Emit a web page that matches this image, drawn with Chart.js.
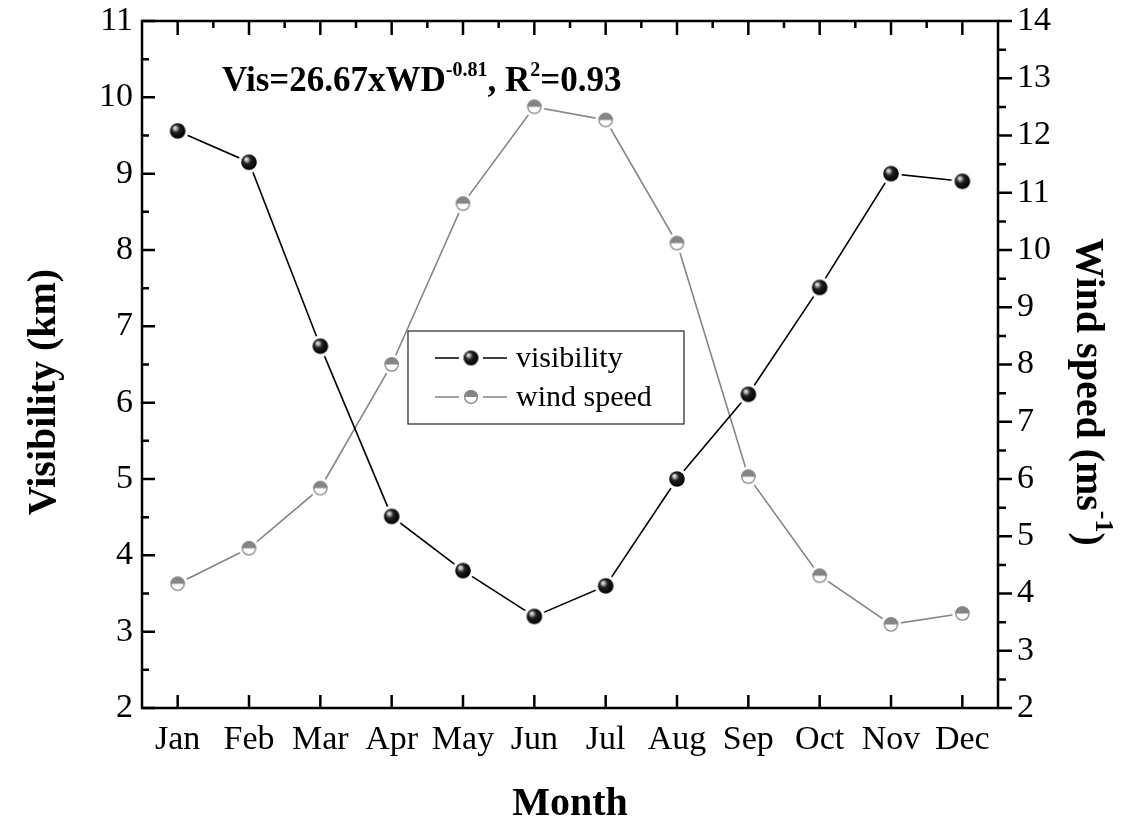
<!DOCTYPE html>
<html><head><meta charset="utf-8">
<script src="https://cdn.jsdelivr.net/npm/chart.js@4.4.1/dist/chart.umd.min.js"></script>
<style>html,body{margin:0;padding:0;background:#fff;overflow:hidden}canvas{display:block}</style>
</head><body>
<canvas id="c" width="1135" height="825"></canvas>
<script>
const months = ['Jan','Feb','Mar','Apr','May','Jun','Jul','Aug','Sep','Oct','Nov','Dec'];
const visibility = [9.56, 9.15, 6.74, 4.51, 3.80, 3.20, 3.60, 5.00, 6.11, 7.51, 9.00, 8.90];
const windSpeed  = [4.17, 4.79, 5.84, 8.00, 10.81, 12.50, 12.27, 10.12, 6.04, 4.31, 3.46, 3.65];
const visRange = [2, 11];
const windRange = [2, 14];
const seriesNames = ['visibility', 'wind speed'];
const leftTitle = 'Visibility (km)';
const rightTitleParts = [{t:'Wind speed (ms'}, {t:'-1', sup:true}, {t:')'}];
const bottomTitle = 'Month';
const equationParts = [{t:'Vis=26.67xWD'}, {t:'-0.81', sup:true}, {t:', R'}, {t:'2', sup:true}, {t:'=0.93'}];

const SERIF = '"Liberation Serif", "Times New Roman", serif';

function sphereMarker(r, gap) {
  const s = Math.ceil((r + gap) * 2) + 2;
  const c = document.createElement('canvas'); c.width = c.height = s;
  const g = c.getContext('2d'); const m = s / 2;
  if (gap > 0) { g.fillStyle = '#fff'; g.beginPath(); g.arc(m, m, r + gap, 0, 2 * Math.PI); g.fill(); }
  const grad = g.createRadialGradient(m - r * 0.35, m - r * 0.4, 0, m - r * 0.15, m - r * 0.15, r * 1.15);
  grad.addColorStop(0, '#ffffff'); grad.addColorStop(0.18, '#b0b0b0');
  grad.addColorStop(0.45, '#202020'); grad.addColorStop(1, '#000000');
  g.fillStyle = grad; g.beginPath(); g.arc(m, m, r, 0, 2 * Math.PI); g.fill();
  return c;
}
function halfMarker(r, gap, col) {
  const s = Math.ceil((r + gap) * 2) + 2;
  const c = document.createElement('canvas'); c.width = c.height = s;
  const g = c.getContext('2d'); const m = s / 2;
  g.fillStyle = '#fff'; g.beginPath(); g.arc(m, m, r + gap, 0, 2 * Math.PI); g.fill();
  g.fillStyle = col; g.beginPath(); g.arc(m, m, r, Math.PI, 2 * Math.PI); g.closePath(); g.fill();
  g.strokeStyle = col; g.lineWidth = 1.3; g.beginPath(); g.arc(m, m, r - 0.6, 0, 2 * Math.PI); g.stroke();
  return c;
}
const visMarker = sphereMarker(7.8, 3);
const windMarker = halfMarker(7.2, 3, '#858585');
const visMarkerLeg = sphereMarker(7.5, 0);
const windMarkerLeg = halfMarker(7, 0, '#858585');

function richWidth(ctx, parts, size, supSize) {
  let w = 0;
  for (const p of parts) { ctx.font = 'bold ' + (p.sup ? supSize : size) + 'px ' + SERIF; w += ctx.measureText(p.t).width; }
  return w;
}
function drawRich(ctx, x, y, parts, size, supSize, raise) {
  let cx = x;
  for (const p of parts) {
    ctx.font = 'bold ' + (p.sup ? supSize : size) + 'px ' + SERIF;
    ctx.fillText(p.t, cx, p.sup ? y - raise : y);
    cx += ctx.measureText(p.t).width;
  }
}

const decor = {
  id: 'decor',
  afterDraw(chart) {
    const ctx = chart.ctx;
    const {left, right, top, bottom} = chart.chartArea;
    const xs = chart.scales.x, ys = chart.scales.y, y1 = chart.scales.y1;
    ctx.save();
    ctx.strokeStyle = '#000'; ctx.lineWidth = 2.5; ctx.lineCap = 'butt';
    ctx.strokeRect(left, top, right - left, bottom - top);
    ctx.beginPath();
    for (let v = visRange[0]; v <= visRange[1] + 1e-9; v += 0.5) {
      const p = ys.getPixelForValue(v); const len = Number.isInteger(v) ? 13 : 7;
      ctx.moveTo(left, p); ctx.lineTo(left + len, p);
    }
    for (let v = windRange[0]; v <= windRange[1] + 1e-9; v += 0.5) {
      const p = y1.getPixelForValue(v); const len = Number.isInteger(v) ? 14 : 8;
      ctx.moveTo(right, p); ctx.lineTo(right + len, p);
    }
    for (let i = 0; i < months.length; i++) {
      const p = xs.getPixelForValue(i);
      ctx.moveTo(p, bottom); ctx.lineTo(p, bottom - 13);
      ctx.moveTo(p, top); ctx.lineTo(p, top + 14);
      if (i < months.length - 1) {
        const q = (p + xs.getPixelForValue(i + 1)) / 2;
        ctx.moveTo(q, top); ctx.lineTo(q, top + 7);
      }
    }
    ctx.stroke();

    ctx.fillStyle = '#000';
    ctx.textBaseline = 'alphabetic';
    ctx.save();
    ctx.translate(55, 392); ctx.rotate(-Math.PI / 2);
    ctx.font = 'bold 40px ' + SERIF; ctx.textAlign = 'center';
    ctx.fillText(leftTitle, 0, 0);
    ctx.restore();
    ctx.save();
    ctx.translate(1077, 392); ctx.rotate(Math.PI / 2);
    ctx.textAlign = 'left';
    const rw = richWidth(ctx, rightTitleParts, 40, 26);
    drawRich(ctx, -rw / 2, 0, rightTitleParts, 40, 26, 19);
    ctx.restore();
    ctx.textAlign = 'left';
    drawRich(ctx, 222, 91, equationParts, 35, 20, 15);

    const bx = 408, by = 331, bw = 276, bh = 93;
    ctx.lineWidth = 1.2; ctx.strokeStyle = '#222';
    ctx.strokeRect(bx, by, bw, bh);
    const rows = [
      {ds: chart.data.datasets[0], img: visMarkerLeg, y: 358},
      {ds: chart.data.datasets[1], img: windMarkerLeg, y: 397}
    ];
    for (const r of rows) {
      ctx.strokeStyle = r.ds.borderColor; ctx.lineWidth = 1.6;
      ctx.beginPath();
      ctx.moveTo(435, r.y); ctx.lineTo(459, r.y);
      ctx.moveTo(483, r.y); ctx.lineTo(507, r.y);
      ctx.stroke();
      ctx.drawImage(r.img, 471 - r.img.width / 2, r.y - r.img.height / 2);
      ctx.font = '30px ' + SERIF; ctx.fillStyle = '#000'; ctx.textBaseline = 'middle';
      ctx.fillText(r.ds.label, 516, r.y + 1);
    }
    ctx.restore();
  }
};

const tickFont = {family: SERIF, size: 34};
function fixV(w) { return s => { s.width = w; s.paddingTop = 0; s.paddingBottom = 0; }; }
new Chart(document.getElementById('c'), {
  type: 'line',
  data: {
    labels: months,
    datasets: [
      {label: seriesNames[0], data: visibility, yAxisID: 'y', borderColor: '#000000', borderWidth: 1.6,
       pointStyle: visMarker, pointRadius: 8, pointHoverRadius: 8, tension: 0, fill: false},
      {label: seriesNames[1], data: windSpeed, yAxisID: 'y1', borderColor: '#858585', borderWidth: 1.6,
       pointStyle: windMarker, pointRadius: 8, pointHoverRadius: 8, tension: 0, fill: false}
    ]
  },
  options: {
    responsive: false, animation: false, devicePixelRatio: 1,
    layout: {padding: {top: 21, left: 0, right: 0, bottom: 0}},
    plugins: {legend: {display: false}, tooltip: {enabled: false}},
    scales: {
      x: {
        offset: true,
        grid: {display: false, drawTicks: false}, border: {display: false},
        ticks: {color: '#000', font: tickFont, padding: 12, maxRotation: 0, autoSkip: false},
        title: {display: true, text: bottomTitle, color: '#000', font: {family: SERIF, size: 40, weight: 'bold', lineHeight: 1}, padding: 0},
        afterFit(s) { s.height = 117; s.paddingLeft = 0; s.paddingRight = 0; }
      },
      y: {
        position: 'left', min: visRange[0], max: visRange[1],
        grid: {display: false, drawTicks: false}, border: {display: false},
        ticks: {stepSize: 1, color: '#000', font: tickFont, padding: 9},
        afterFit: fixV(142)
      },
      y1: {
        position: 'right', min: windRange[0], max: windRange[1],
        grid: {display: false, drawTicks: false}, border: {display: false},
        ticks: {stepSize: 1, color: '#000', font: tickFont, padding: 19},
        afterFit: fixV(137)
      }
    }
  },
  plugins: [decor]
});
</script>
</body></html>
